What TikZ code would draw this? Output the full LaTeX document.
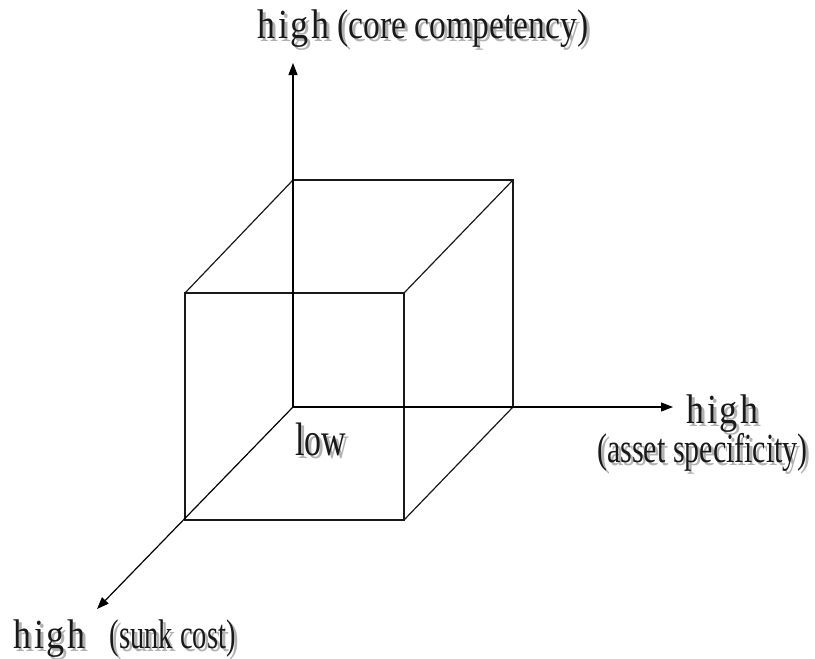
\documentclass[tikz,border=0pt]{standalone}
\usepackage{fontspec}
\setmainfont{Liberation Serif}
\usetikzlibrary{arrows.meta}
\newcommand{\shtxt}[1]{\rlap{\raisebox{-2.5pt}{\hspace{3pt}\textcolor{black!30}{#1}}}#1}
\newcommand{\stretchtxt}[1]{\scalebox{1}[1.38]{\shtxt{#1}}}
\newcommand{\hiword}{\scalebox{1.2}[1]{\addfontfeature{LetterSpace=8}high}}
\begin{document}
\begin{tikzpicture}[x=1pt,y=-1pt,
  edge/.style={line width=1.2pt, black!90},
  axis/.style={line width=1.2pt, -{Triangle[length=12pt,width=9pt]}},
  lbl/.style={inner sep=0pt, anchor=base west, font=\fontsize{30}{32}\selectfont, text=black!90}]
\useasboundingbox (0,0) rectangle (815,659);
% back face
\coordinate (O) at (293,407);
\coordinate (BTL) at (293,180);
\coordinate (BTR) at (513,180);
\coordinate (BBR) at (513,407);
% front face
\coordinate (FTL) at (185,293);
\coordinate (FTR) at (404,293);
\coordinate (FBR) at (404,520);
\coordinate (FBL) at (185,520);
% axis ends
\coordinate (Ytip) at (293,63);
\coordinate (Xtip) at (673,407);
\coordinate (Ztip) at (97,609);
\draw[edge] (BTL) -- (BTR) -- (BBR);
\draw[edge] (FTL) -- (FTR) -- (FBR) -- (FBL) -- cycle;
\draw[edge] (FTL) -- (BTL);
\draw[edge] (FTR) -- (BTR);
\draw[edge] (FBR) -- (BBR);
\draw[axis] (O) -- (Ytip);
\draw[axis] (O) -- (Xtip);
\draw[axis] (O) -- (Ztip);
% labels
\node[lbl] (ly) at (257,38) {\stretchtxt{\hiword\ \scalebox{1.12}[1]{(core competency)}}};
\node[lbl] (lx1) at (686,423) {\stretchtxt{\hiword}};
\node[lbl] (lx2) at (597,462) {\stretchtxt{(asset specificity)}};
\node[lbl] (lz) at (13,648) {\stretchtxt{\hiword\hspace{24pt}\scalebox{0.95}[1]{(sunk cost)}}};
\node[lbl, font=\fontsize{34}{36}\selectfont] (low) at (295,455) {\stretchtxt{low}};
\end{tikzpicture}
\end{document}
